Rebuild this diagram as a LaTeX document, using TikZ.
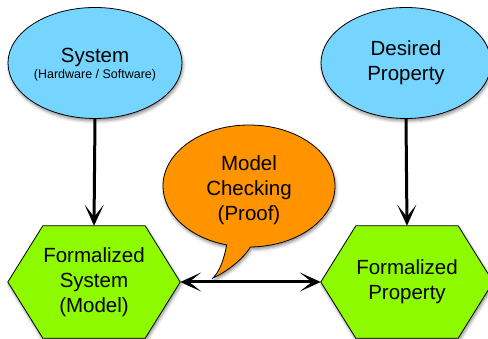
\documentclass[tikz,border=0pt]{standalone}
\usepackage{fontspec}
\setmainfont{Liberation Sans}
\usetikzlibrary{shapes.geometric,arrows.meta,shadows.blur}

\definecolor{skyblue}{HTML}{75D5FF}
\definecolor{bubbleorange}{HTML}{FF9300}
\definecolor{limegreen}{HTML}{8EFA00}

\tikzset{
  softshadow/.style={blur shadow={shadow xshift=1pt, shadow yshift=-2.5pt,
      shadow blur radius=3pt, shadow opacity=45}},
  goal/.style={ellipse, draw=black, line width=0.8pt, fill=skyblue, softshadow,
      minimum width=174pt, minimum height=111pt, inner sep=0pt,
      align=center, font=\fontsize{20.5}{25}\selectfont},
  hexslot/.style={rectangle, minimum width=172pt, minimum height=112pt,
      inner sep=0pt, align=center, font=\fontsize{20.5}{25}\selectfont},
  hexfill/.style={draw=black, line width=0.8pt, fill=limegreen, softshadow, line join=miter},
  bubble/.style={draw=black, line width=0.8pt, fill=bubbleorange, softshadow},
  arr/.style={line width=3pt, -{Stealth[length=21pt,width=19pt,inset=12pt]}},
  dblarr/.style={line width=3pt, {Stealth[length=21pt,width=19pt,inset=12pt]}-{Stealth[length=21pt,width=19pt,inset=12pt]}},
}

\begin{document}
\begin{tikzpicture}[x=1pt,y=1pt]
\useasboundingbox (0,0) rectangle (488,339);

% upper inputs
\node[goal] (sys) at (95,276) {};
\node[font=\fontsize{20.5}{25}\selectfont, anchor=base] (systxt) at (95,276) {System};
\node[font=\fontsize{12.5}{14}\selectfont, anchor=base] (syssub) at (95,260) {(Hardware / Software)};
\node[goal, minimum width=170pt] (prop) at (406,276) {Desired\\Property};

% lower hexagon slots
\node[hexslot] (hs) at (94,57) {};
\node[hexslot] (hp) at (407,57) {};

\foreach \h in {hs,hp}{
  \path[hexfill] (\h.west) -- ([xshift=35pt]\h.north west) -- ([xshift=-35pt]\h.north east)
    -- (\h.east) -- ([xshift=-35pt]\h.south east) -- ([xshift=35pt]\h.south west) -- cycle;
}
\node[hexslot] at (hs) {Formalized\\System\\(Model)};
\node[hexslot] at (hp) {Formalized\\Property};

% speech bubble
\coordinate (mcc) at (249,153);
\coordinate (tp) at (213,61);
\path[bubble] ([shift={(271:86pt and 61pt)}]mcc) arc[start angle=271, end angle=615, x radius=86pt, y radius=61pt]
  .. controls (224,80) and (220,68) .. (tp)
  .. controls (228,68) and (243,80) .. cycle;
\node[align=center, font=\fontsize{20.5}{25}\selectfont] (mc) at (249,149) {Model\\Checking\\(Proof)};

% connectors
\draw[arr] (sys.south) -- (hs.north);
\draw[arr] (prop.south) -- (hp.north);
\draw[dblarr] (hs.east) -- (hp.west);
\end{tikzpicture}
\end{document}
